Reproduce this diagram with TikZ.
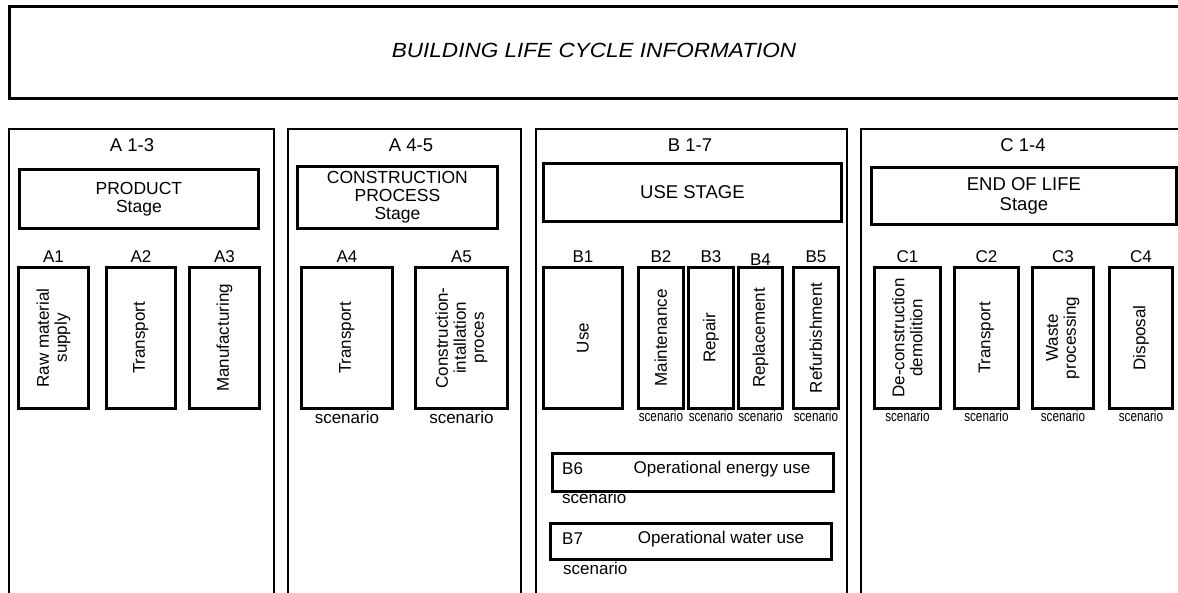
\documentclass[tikz,border=0pt]{standalone}
\usepackage{fontspec}
\setmainfont{Liberation Sans}
\newfontfamily\condfont[FakeStretch=0.78]{Liberation Sans}
\newfontfamily\widefont[FakeStretch=1.1]{Liberation Sans}
\begin{document}
\begin{tikzpicture}[x=1pt,y=-1pt,
  col/.style={draw, line width=2.4pt, anchor=north west, inner sep=0pt},
  sbox/.style={draw, line width=2.8pt, anchor=north west, inner sep=0pt},
  head/.style={font=\fontsize{18.5}{20}\selectfont, inner sep=0pt},
  stxt/.style={font=\fontsize{17.5}{18}\selectfont, align=center},
  lbl/.style={font=\fontsize{17}{18}\selectfont, inner sep=0pt},
  vtxt/.style={font=\fontsize{17}{18}\selectfont, align=center, rotate=90, inner sep=0pt},
  scen/.style={font=\condfont\fontsize{15}{16}\selectfont, inner sep=0pt},
  scenbig/.style={font=\fontsize{17}{18}\selectfont, inner sep=0pt}
]
\clip (0,0) rectangle (1178,592);
\fill[white] (0,0) rectangle (1178,592);

% title
\node[col, line width=2.8pt, minimum width=1192, minimum height=92] (top) at (8,5) {};
\node[font=\widefont\itshape\fontsize{20.5}{22}\selectfont] (title) at (594,50) {BUILDING LIFE CYCLE INFORMATION};

% columns
\node[col, minimum width=265, minimum height=465] (colA) at (8,128) {};
\node[col, minimum width=233, minimum height=465] (colAB) at (287,128) {};
\node[col, minimum width=311, minimum height=465] (colB) at (535,128) {};
\node[col, minimum width=400, minimum height=465] (colC) at (860,128) {};

\node[head] (hA) at (132,145) {A 1-3};
\node[head] (hAB) at (411,145) {A 4-5};
\node[head] (hB) at (690,145) {B 1-7};
\node[head] (hC) at (1023,145) {C 1-4};

% stage boxes
\node[sbox, minimum width=239, minimum height=59] (sA) at (18,168) {};
\node[stxt] at (sA.center) {PRODUCT\\Stage};
\node[sbox, minimum width=200, minimum height=62] (sAB) at (296,165) {};
\node[stxt] at (sAB.center) {CONSTRUCTION\\PROCESS\\Stage};
\node[sbox, minimum width=298, minimum height=58] (sB) at (542,162) {};
\node[stxt, font=\fontsize{18.5}{20}\selectfont] at (sB.center) {USE STAGE};
\node[sbox, minimum width=305, minimum height=57] (sC) at (870,166) {};
\node[stxt, font=\fontsize{18.5}{20}\selectfont] at (sC.center) {END OF LIFE\\Stage};

% module boxes
\node[sbox, minimum width=70, minimum height=141] (a1) at (17,266) {};
\node[sbox, minimum width=69, minimum height=141] (a2) at (105,266) {};
\node[sbox, minimum width=70, minimum height=141] (a3) at (188,266) {};
\node[sbox, minimum width=91, minimum height=141] (a4) at (300,266) {};
\node[sbox, minimum width=92, minimum height=141] (a5) at (414,266) {};
\node[sbox, minimum width=79, minimum height=141] (b1) at (542,266) {};
\node[sbox, minimum width=45, minimum height=141] (b2) at (637,266) {};
\node[sbox, minimum width=45, minimum height=141] (b3) at (687,266) {};
\node[sbox, minimum width=44, minimum height=141] (b4) at (737,266) {};
\node[sbox, minimum width=45, minimum height=141] (b5) at (792,266) {};
\node[sbox, minimum width=66, minimum height=141] (c1) at (873,266) {};
\node[sbox, minimum width=64, minimum height=141] (c2) at (953,266) {};
\node[sbox, minimum width=61, minimum height=141] (c3) at (1031,266) {};
\node[sbox, minimum width=63, minimum height=141] (c4) at (1108,266) {};

% labels above
\node[lbl] (la1) at (a1.center |- 0,257) {A1};
\node[lbl] (la2) at (a2.center |- 0,257) {A2};
\node[lbl] (la3) at (a3.center |- 0,257) {A3};
\node[lbl] (la4) at (a4.center |- 0,257) {A4};
\node[lbl] (la5) at (a5.center |- 0,257) {A5};
\node[lbl] (lb1) at (b1.center |- 0,257) {B1};
\node[lbl] (lb2) at (b2.center |- 0,257) {B2};
\node[lbl] (lb3) at (b3.center |- 0,257) {B3};
\node[lbl] (lb4) at (b4.center |- 0,259.5) {B4};
\node[lbl] (lb5) at (b5.center |- 0,257) {B5};
\node[lbl] (lc1) at (c1.center |- 0,257) {C1};
\node[lbl] (lc2) at (c2.center |- 0,257) {C2};
\node[lbl] (lc3) at (c3.center |- 0,257) {C3};
\node[lbl] (lc4) at (c4.center |- 0,257) {C4};

% vertical texts
\node[vtxt] at (a1.center) {Raw material\\supply};
\node[vtxt] at (a2.center) {Transport};
\node[vtxt] at (a3.center) {Manufacturing};
\node[vtxt] at (a4.center) {Transport};
\node[vtxt] at (a5.center) {Construction-\\intallation\\proces};
\node[vtxt] at (b1.center) {Use};
\node[vtxt] at (b2.center) {Maintenance};
\node[vtxt] at (b3.center) {Repair};
\node[vtxt] at (b4.center) {Replacement};
\node[vtxt] at (b5.center) {Refurbishment};
\node[vtxt] at (c1.center) {De-construction\\demolition};
\node[vtxt] at (c2.center) {Transport};
\node[vtxt] at (c3.center) {Waste\\processing};
\node[vtxt] at (c4.center) {Disposal};

% scenario labels
\node[scenbig] at (a4.center |- 0,417) {scenario};
\node[scenbig] at (a5.center |- 0,417) {scenario};
\node[scen] at (b2.center |- 0,416) {scenario};
\node[scen] at (b3.center |- 0,416) {scenario};
\node[scen] at (b4.center |- 0,416) {scenario};
\node[scen] at (b5.center |- 0,416) {scenario};
\node[scen] at (c1.center |- 0,416) {scenario};
\node[scen] at (c2.center |- 0,416) {scenario};
\node[scen] at (c3.center |- 0,416) {scenario};
\node[scen] at (c4.center |- 0,416) {scenario};

% B6, B7
\node[sbox, minimum width=281, minimum height=38] (b6) at (551,452) {};
\node[lbl, anchor=west] at (562,469) {B6};
\node[lbl] at (722,469) {Operational energy use};
\node[scenbig, anchor=west] at (562,497) {scenario};
\node[sbox, minimum width=281, minimum height=36] (b7) at (549,522) {};
\node[lbl, anchor=west] at (562,539) {B7};
\node[lbl] at (721,539) {Operational water use};
\node[scenbig, anchor=west] at (563,568) {scenario};
\end{tikzpicture}
\end{document}
